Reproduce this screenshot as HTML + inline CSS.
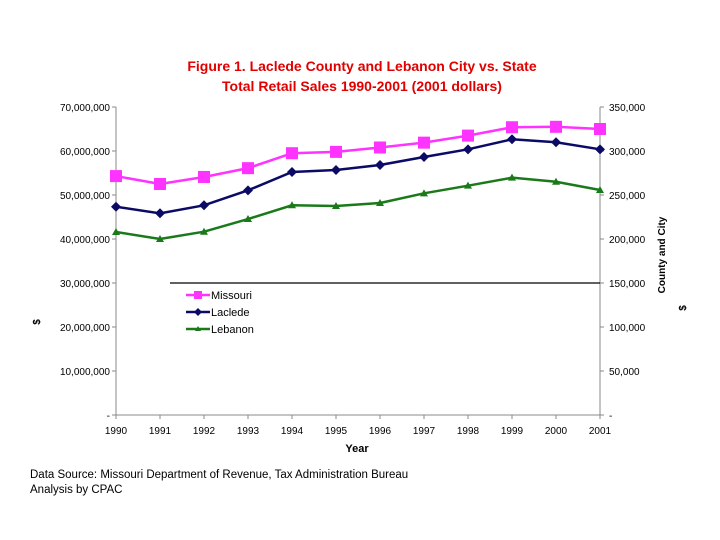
<!DOCTYPE html>
<html><head><meta charset="utf-8"><style>
body{margin:0;background:#fff}
svg{display:block;font-family:"Liberation Sans",Arial,sans-serif}
</style></head><body>
<svg id="c" width="720" height="540" viewBox="0 0 720 540">
<text x="362" y="71" text-anchor="middle" font-size="14" font-weight="bold" fill="#e00000">Figure 1.  Laclede County and Lebanon City vs. State</text>
<text x="362" y="91" text-anchor="middle" font-size="14" font-weight="bold" fill="#e00000">Total Retail Sales 1990-2001 (2001 dollars)</text>
<g id="axes"></g>
<g id="marks"></g>
<text x="357" y="452" text-anchor="middle" font-size="11" font-weight="bold">Year</text>
<text transform="translate(40,322) rotate(-90)" text-anchor="middle" font-size="10" font-weight="bold">$</text>
<text transform="translate(665,255) rotate(-90)" text-anchor="middle" font-size="10" font-weight="bold">County and City</text>
<text transform="translate(686,308) rotate(-90)" text-anchor="middle" font-size="10" font-weight="bold">$</text>
<text x="30" y="478" font-size="11.5">Data Source: Missouri Department of Revenue, Tax Administration Bureau</text>
<text x="30" y="493" font-size="11.5">Analysis by CPAC</text>
<line x1="170" y1="283" x2="600" y2="283" stroke="#000" stroke-width="1.2"/>
<g>
<line x1="186" y1="295" x2="210" y2="295" stroke="#ff33ff" stroke-width="2.5"/><rect x="194" y="291" width="8" height="8" fill="#ff33ff"/>
<text x="211" y="299" font-size="11">Missouri</text>
<line x1="186" y1="312" x2="210" y2="312" stroke="#0b0b66" stroke-width="2.5"/><path d="M198 308L202 312L198 316L194 312Z" fill="#0b0b66"/>
<text x="211" y="316" font-size="11">Laclede</text>
<line x1="186" y1="329" x2="210" y2="329" stroke="#1a7a1a" stroke-width="2.5"/><path d="M198 326L201 331L195 331Z" fill="#1a7a1a"/>
<text x="211" y="333" font-size="11">Lebanon</text>
</g>
</svg>
<script>
const years=["1990","1991","1992","1993","1994","1995","1996","1997","1998","1999","2000","2001"];
const missouri=[54.3,52.5,54.1,56.1,59.5,59.8,60.8,61.9,63.5,65.4,65.5,65.0];
const laclede=[236.7,229.2,238.3,255.3,276.1,278.4,284.1,293.2,301.9,313.3,309.9,301.9];
const lebanon=[208,200,208.3,222.7,238.3,237.5,240.9,251.9,260.6,269.7,265.1,255.7];
const leftTicks=["-","10,000,000","20,000,000","30,000,000","40,000,000","50,000,000","60,000,000","70,000,000"];
const rightTicks=["-","50,000","100,000","150,000","200,000","250,000","300,000","350,000"];
const NS="http://www.w3.org/2000/svg";
const X0=116,X1=600,Y0=415,Y1=107;
const xS=i=>X0+i*(X1-X0)/(years.length-1);
const yL=v=>Y0-(v/70)*(Y0-Y1);
const yR=v=>Y0-(v/350)*(Y0-Y1);
function mk(t,a,p){const e=document.createElementNS(NS,t);for(const k in a)e.setAttribute(k,a[k]);p.appendChild(e);return e;}
const ax=document.getElementById('axes'),mg=document.getElementById('marks');
const la=mk('path',{d:`M${X0} ${Y1}V${Y0}H${X1}V${Y1}`,fill:'none',stroke:'#888'},ax);


leftTicks.forEach((t,i)=>{const y=Y0-i*(Y0-Y1)/7;
 mk('line',{x1:X0-4,x2:X0,y1:y,y2:y,stroke:'#888'},ax);
 const e=mk('text',{x:110,y:y+4,'text-anchor':'end','font-size':10},ax);e.textContent=t;
 
 
 mk('line',{x1:X1,x2:X1+4,y1:y,y2:y,stroke:'#888'},ax);
 const r=mk('text',{x:609,y:y+4,'font-size':10},ax);r.textContent=rightTicks[i];
 
 
});
years.forEach((t,i)=>{const x=xS(i);
 mk('line',{x1:x,x2:x,y1:Y0,y2:Y0+4,stroke:'#888'},ax);
 const e=mk('text',{x:x,y:434,'text-anchor':'middle','font-size':10},ax);e.textContent=t;
 
 
});
function series(vals,yf,col,shape,name){
 const g=mk('g',{},mg);
 
 
 mk('polyline',{points:vals.map((v,i)=>xS(i)+','+yf(v)).join(' '),fill:'none',stroke:col,'stroke-width':2.5},g);
 vals.forEach((v,i)=>{const x=xS(i),y=yf(v);let m;
  if(shape==='sq')m=mk('rect',{x:x-6,y:y-6,width:12,height:12,fill:col},g);
  else if(shape==='dia')m=mk('path',{d:`M${x} ${y-5}L${x+5} ${y}L${x} ${y+5}L${x-5} ${y}Z`,fill:col},g);
  else m=mk('path',{d:`M${x} ${y-4}L${x+4} ${y+3}L${x-4} ${y+3}Z`,fill:col},g);
  
  
 });
}
series(missouri,yL,'#ff33ff','sq','missouri');
series(laclede,yR,'#0b0b66','dia','laclede');
series(lebanon,yR,'#1a7a1a','tri','lebanon');
</script>
</body></html>
